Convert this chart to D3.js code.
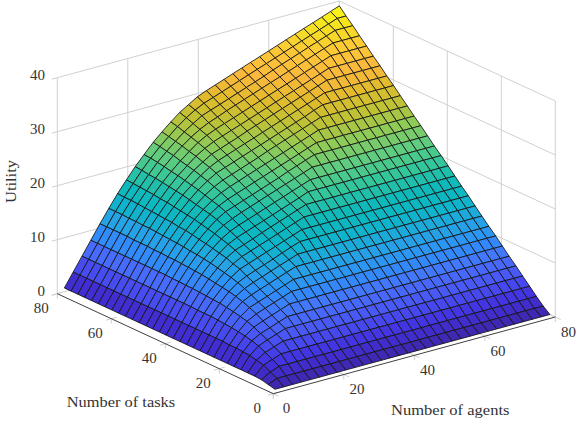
<!DOCTYPE html>
<html>
<head>
<meta charset="utf-8">
<script src="https://cdn.jsdelivr.net/npm/d3@7"></script>
<style>
  html, body { margin: 0; background: #fff; }
  text { font-family: "Liberation Serif", serif; fill: #333; }
</style>
</head>
<body>
<script>
var agents = [2,4.5,7,9.5,12.1,14.6,17.1,19.6,22.1,24.6,27.2,29.7,32.2,34.7,37.2,39.7,42.3,44.8,47.3,49.8,52.3,54.8,57.4,59.9,62.4,64.9,67.4,69.9,72.5,75,77.5,80];
var tasks = [2,4.5,7,9.5,12.1,14.6,17.1,19.6,22.1,24.6,27.2,29.7,32.2,34.7,37.2,39.7,42.3,44.8,47.3,49.8,52.3,54.8,57.4,59.9,62.4,64.9,67.4,69.9,72.5,75,77.5,80];

// one row per tasks value, one column per agents value.
var utility = [
[0,0,0,0,0,0,0,0, 0,0,0,0,0,0,0,0, 0,0,0,0,0,0,0,0, 0,0,0,0,0,0,0,0],
[.3,1,1,1,1,1,1,1, 1,1,1,1,1,1,1,1, 1,1,1,1,1,1,1,1, 1,1,1,1,1,1,1,1],
[.6,1.6,2.2,2.2,2.2,2.2,2.2,2.2, 2.2,2.2,2.2,2.2,2.2,2.2,2.2,2.2, 2.2,2.2,2.2,2.2,2.2,2.2,2.2,2.2, 2.2,2.2,2.2,2.2,2.2,2.2,2.2,2.2],
[.7,2.3,2.9,3.5,3.5,3.5,3.5,3.5, 3.5,3.5,3.5,3.5,3.5,3.5,3.5,3.5, 3.5,3.5,3.5,3.5,3.5,3.5,3.5,3.5, 3.5,3.5,3.5,3.5,3.5,3.5,3.5,3.5],
[.7,2.6,3.6,4.2,4.8,4.8,4.8,4.8, 4.8,4.8,4.8,4.8,4.8,4.8,4.8,4.8, 4.8,4.8,4.8,4.8,4.8,4.8,4.8,4.8, 4.8,4.8,4.8,4.8,4.8,4.8,4.8,4.8],
[.7,2.9,4.2,4.9,5.5,6.1,6.1,6.1, 6.1,6.1,6.1,6.1,6.1,6.1,6.1,6.1, 6.1,6.1,6.1,6.1,6.1,6.1,6.1,6.1, 6.1,6.1,6.1,6.1,6.1,6.1,6.1,6.1],
[.7,3,4.6,5.5,6.1,6.7,7.3,7.3, 7.3,7.3,7.3,7.3,7.3,7.3,7.3,7.3, 7.3,7.3,7.3,7.3,7.3,7.3,7.3,7.3, 7.3,7.3,7.3,7.3,7.3,7.3,7.3,7.3],
[.7,3.1,4.9,6.1,6.8,7.4,8,8.6, 8.6,8.6,8.6,8.6,8.6,8.6,8.6,8.6, 8.6,8.6,8.6,8.6,8.6,8.6,8.6,8.6, 8.6,8.6,8.6,8.6,8.6,8.6,8.6,8.6],
[.7,3.1,5.1,6.6,7.5,8.1,8.7,9.3, 9.9,9.9,9.9,9.9,9.9,9.9,9.9,9.9, 9.9,9.9,9.9,9.9,9.9,9.9,9.9,9.9, 9.9,9.9,9.9,9.9,9.9,9.9,9.9,9.9],
[.7,3.2,5.3,6.9,8.1,8.7,9.3,9.9, 10.5,11.1,11.1,11.1,11.1,11.1,11.1,11.1, 11.1,11.1,11.1,11.1,11.1,11.1,11.1,11.1, 11.1,11.1,11.1,11.1,11.1,11.1,11.1,11.1],
[.7,3.2,5.4,7.2,8.6,9.4,10,10.6, 11.2,11.8,12.4,12.4,12.4,12.4,12.4,12.4, 12.4,12.4,12.4,12.4,12.4,12.4,12.4,12.4, 12.4,12.4,12.4,12.4,12.4,12.4,12.4,12.4],
[.7,3.2,5.5,7.4,9,10,10.7,11.3, 11.9,12.5,13.1,13.7,13.7,13.7,13.7,13.7, 13.7,13.7,13.7,13.7,13.7,13.7,13.7,13.7, 13.7,13.7,13.7,13.7,13.7,13.7,13.7,13.7],
[.7,3.2,5.6,7.6,9.3,10.5,11.3,11.9, 12.5,13.1,13.8,14.4,15,15,15,15, 15,15,15,15,15,15,15,15, 15,15,15,15,15,15,15,15],
[.7,3.2,5.6,7.7,9.5,10.9,12,12.6, 13.2,13.8,14.4,15,15.6,16.2,16.2,16.2, 16.2,16.2,16.2,16.2,16.2,16.2,16.2,16.2, 16.2,16.2,16.2,16.2,16.2,16.2,16.2,16.2],
[.7,3.2,5.6,7.8,9.7,11.2,12.4,13.3, 13.9,14.5,15.1,15.7,16.3,16.9,17.5,17.5, 17.5,17.5,17.5,17.5,17.5,17.5,17.5,17.5, 17.5,17.5,17.5,17.5,17.5,17.5,17.5,17.5],
[.7,3.2,5.7,7.9,9.9,11.5,12.9,13.9, 14.5,15.1,15.8,16.4,17,17.6,18.2,18.8, 18.8,18.8,18.8,18.8,18.8,18.8,18.8,18.8, 18.8,18.8,18.8,18.8,18.8,18.8,18.8,18.8],
[.7,3.2,5.7,8,10.1,11.8,13.2,14.4, 15.2,15.8,16.4,17,17.6,18.2,18.8,19.4, 20.1,20.1,20.1,20.1,20.1,20.1,20.1,20.1, 20.1,20.1,20.1,20.1,20.1,20.1,20.1,20.1],
[.7,3.2,5.7,8,10.2,12,13.5,14.8, 15.8,16.5,17.1,17.7,18.3,18.9,19.5,20.1, 20.7,21.3,21.3,21.3,21.3,21.3,21.3,21.3, 21.3,21.3,21.3,21.3,21.3,21.3,21.3,21.3],
[.7,3.2,5.7,8.1,10.3,12.2,13.8,15.2, 16.3,17.1,17.8,18.4,19,19.6,20.2,20.8, 21.4,22,22.6,22.6,22.6,22.6,22.6,22.6, 22.6,22.6,22.6,22.6,22.6,22.6,22.6,22.6],
[.7,3.2,5.7,8.1,10.4,12.3,14,15.5, 16.8,17.8,18.4,19,19.6,20.2,20.8,21.4, 22.1,22.7,23.3,23.9,23.9,23.9,23.9,23.9, 23.9,23.9,23.9,23.9,23.9,23.9,23.9,23.9],
[.7,3.2,5.7,8.2,10.5,12.5,14.3,15.8, 17.2,18.3,19.1,19.7,20.3,20.9,21.5,22.1, 22.7,23.3,23.9,24.5,25.1,25.1,25.1,25.1, 25.1,25.1,25.1,25.1,25.1,25.1,25.1,25.1],
[.7,3.2,5.7,8.2,10.5,12.6,14.5,16.1, 17.5,18.7,19.7,20.4,21,21.6,22.2,22.8, 23.4,24,24.6,25.2,25.8,26.4,26.4,26.4, 26.4,26.4,26.4,26.4,26.4,26.4,26.4,26.4],
[.7,3.2,5.7,8.2,10.6,12.7,14.6,16.3, 17.8,19.1,20.2,21,21.6,22.2,22.8,23.4, 24.1,24.7,25.3,25.9,26.5,27.1,27.7,27.7, 27.7,27.7,27.7,27.7,27.7,27.7,27.7,27.7],
[.7,3.2,5.7,8.2,10.6,12.8,14.8,16.5, 18.1,19.5,20.7,21.7,22.3,22.9,23.5,24.1, 24.7,25.3,25.9,26.5,27.1,27.7,28.4,29, 29,29,29,29,29,29,29,29],
[.7,3.2,5.7,8.2,10.7,12.9,14.9,16.7, 18.4,19.8,21.1,22.2,23,23.6,24.2,24.8, 25.4,26,26.6,27.2,27.8,28.4,29,29.6, 30.2,30.2,30.2,30.2,30.2,30.2,30.2,30.2],
[.7,3.2,5.7,8.2,10.7,13,15,16.9, 18.6,20.1,21.5,22.6,23.6,24.2,24.8,25.4, 26.1,26.7,27.3,27.9,28.5,29.1,29.7,30.3, 30.9,31.5,31.5,31.5,31.5,31.5,31.5,31.5],
[.7,3.2,5.7,8.2,10.7,13,15.1,17, 18.8,20.4,21.8,23.1,24.1,24.9,25.5,26.1, 26.7,27.3,27.9,28.5,29.1,29.7,30.3,30.9, 31.5,32.1,32.7,32.7,32.7,32.7,32.7,32.7],
[.7,3.2,5.7,8.2,10.8,13.1,15.2,17.2, 19,20.6,22.1,23.4,24.6,25.5,26.2,26.8, 27.4,28,28.6,29.2,29.8,30.4,31,31.6, 32.2,32.8,33.4,34,34,34,34,34],
[.7,3.2,5.7,8.2,10.8,13.1,15.3,17.3, 19.2,20.9,22.5,23.8,25,26,26.8,27.4, 28.1,28.7,29.3,29.9,30.5,31.1,31.7,32.3, 32.9,33.5,34.1,34.7,35.3,35.3,35.3,35.3],
[.7,3.2,5.7,8.2,10.8,13.2,15.4,17.4, 19.3,21.1,22.7,24.1,25.4,26.5,27.5,28.1, 28.7,29.3,29.9,30.5,31.1,31.7,32.4,33, 33.6,34.2,34.8,35.4,36,36.6,36.6,36.6],
[.7,3.2,5.7,8.2,10.8,13.2,15.4,17.5, 19.5,21.3,23,24.4,25.8,27,28,28.8, 29.4,30,30.6,31.2,31.8,32.4,33,33.6, 34.2,34.8,35.4,36,36.6,37.2,37.8,37.8],
[.7,3.2,5.7,8.2,10.8,13.2,15.5,17.6, 19.6,21.4,23.2,24.7,26.1,27.4,28.4,29.4, 30.1,30.7,31.3,31.9,32.5,33.1,33.7,34.3, 34.9,35.5,36.1,36.7,37.3,37.9,38.5,39.1]
];

var zTicks = [0, 10, 20, 30, 40];
var xTicks = [0, 20, 40, 60, 80];
var parula = ["#3e26a8","#4230de","#4852f4","#4770fd","#2e8ffa","#24a5e3","#0cb5c9","#0fbab8","#36c69a","#60cc7e","#8ecb58","#bcc236","#e1bb2c","#fbb83c","#fdc836","#f5df22","#f9fb15"];

var width = 582, height = 423;
var svg = d3.select('body').append('svg').attr('width', width).attr('height', height);

// three scales make up the oblique projection of the box
var agentX = d3.scaleLinear().domain([0, 80]).range([0, 282]);
var agentY = d3.scaleLinear().domain([0, 80]).range([0, -76.7]);
var taskX = d3.scaleLinear().domain([0, 80]).range([0, -216]);
var taskY = d3.scaleLinear().domain([0, 80]).range([0, -100]);
var zY = d3.scaleLinear().domain([0, 40]).range([0, -216]);

function project(a, t, z) {
  return [273.3 + agentX(a) + taskX(t), 393.7 + agentY(a) + taskY(t) + zY(z)];
}

var maxZ = d3.max(utility, function (row) { return d3.max(row); });
var color = d3.scaleLinear()
  .domain(parula.map(function (c, i) { return i / (parula.length - 1) * maxZ; }))
  .range(parula)
  .interpolate(d3.interpolateRgb);

function line(g, p, q, col, w) {
  g.append('line')
    .attr('x1', p[0]).attr('y1', p[1])
    .attr('x2', q[0]).attr('y2', q[1])
    .attr('stroke', col).attr('stroke-width', w);
}

var gridColor = '#d0d0d0';
var grid = svg.append('g');

// back walls
xTicks.forEach(function (v) {
  if (v > 0) line(grid, project(v, 80, 0), project(v, 80, 40), gridColor, 1);
  if (v < 80) line(grid, project(80, v, 0), project(80, v, 40), gridColor, 1);
});
zTicks.forEach(function (z) {
  line(grid, project(0, 80, z), project(80, 80, z), gridColor, 1);
  line(grid, project(80, 80, z), project(80, 0, z), gridColor, 1);
});
line(grid, project(0, 80, 0), project(0, 80, 40), gridColor, 1);

// little tick stubs
zTicks.forEach(function (z) {
  var p = project(0, 80, z);
  line(grid, p, [p[0] - 5.5, p[1] + 1.5], gridColor, 1);
});
xTicks.forEach(function (v) {
  var p = project(v, 0, 0);
  line(grid, p, [p[0], p[1] + 5], gridColor, 1);
  line(grid, p, [p[0] + 5.4, p[1] + 2.5], gridColor, 1);
  line(grid, p, [p[0] - 5.4, p[1] - 2.5], gridColor, 1);
  var q = project(0, v, 0);
  line(grid, q, [q[0], q[1] + 5], gridColor, 1);
  line(grid, q, [q[0] - 5.5, q[1] + 1.5], gridColor, 1);
  line(grid, q, [q[0] + 5.5, q[1] - 1.5], gridColor, 1);
});

// front axis lines
var axes = svg.append('g');
line(axes, project(0, 80, 0), project(0, 0, 0), '#404040', 1);
line(axes, project(0, 0, 0), project(80, 0, 0), '#404040', 1);

// surface cells, painted from the back corner forward
var cells = [];
for (var i = 0; i < tasks.length - 1; i++) {
  for (var j = 0; j < agents.length - 1; j++) {
    cells.push({i: i, j: j});
  }
}
cells.sort(function (p, q) { return (q.i + q.j) - (p.i + p.j); });

svg.append('g').selectAll('path')
  .data(cells)
  .enter()
  .append('path')
  .attr('d', function (d) {
    var i = d.i, j = d.j;
    return 'M' + [
      project(agents[j], tasks[i], utility[i][j]),
      project(agents[j + 1], tasks[i], utility[i][j + 1]),
      project(agents[j + 1], tasks[i + 1], utility[i + 1][j + 1]),
      project(agents[j], tasks[i + 1], utility[i + 1][j])
    ].join('L') + 'Z';
  })
  .attr('fill', function (d) {
    var i = d.i, j = d.j;
    return color((utility[i][j] + utility[i][j + 1] + utility[i + 1][j] + utility[i + 1][j + 1]) / 4);
  })
  .attr('stroke', '#141414')
  .attr('stroke-width', 0.85)
  .attr('stroke-linejoin', 'round');

// tick labels
var labels = svg.append('g').attr('font-size', 15);
zTicks.forEach(function (z) {
  var p = project(0, 80, z);
  labels.append('text').attr('x', 45).attr('y', p[1] - 2.4)
    .attr('text-anchor', 'end').attr('dy', '0.33em').text(z);
});
xTicks.forEach(function (v) {
  var q = project(0, v, 0);
  labels.append('text').attr('x', q[0] - 16).attr('y', q[1] + 14)
    .attr('text-anchor', 'middle').attr('dy', '0.33em').text(v);
  var p = project(v, 0, 0);
  labels.append('text').attr('x', p[0] + 13.2).attr('y', p[1] + 14.6)
    .attr('text-anchor', 'middle').attr('dy', '0.33em').text(v);
});

// axis titles
var titles = svg.append('g').attr('font-size', 15.5);
titles.append('text').attr('x', 66.7).attr('y', 407)
  .attr('textLength', 108.5).attr('lengthAdjust', 'spacingAndGlyphs').text('Number of tasks');
titles.append('text').attr('x', 391).attr('y', 414.5)
  .attr('textLength', 118.5).attr('lengthAdjust', 'spacingAndGlyphs').text('Number of agents');
titles.append('text').attr('transform', 'translate(15.5,203) rotate(-90)')
  .attr('textLength', 43).attr('lengthAdjust', 'spacingAndGlyphs').text('Utility');
</script>
</body>
</html>
